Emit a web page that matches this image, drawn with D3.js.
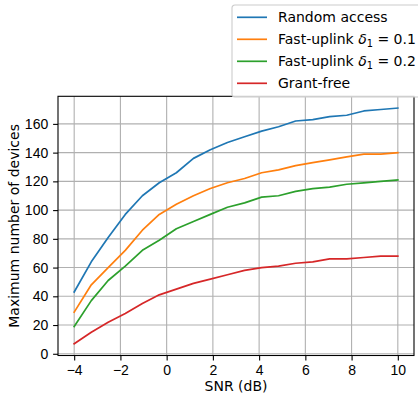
<!DOCTYPE html>
<html>
<head>
<meta charset="utf-8">
<script src="https://cdn.jsdelivr.net/npm/d3@7"></script>
<style>
  body { margin: 0; background: #fff; }
  svg { display: block; font-family: "DejaVu Sans", sans-serif; }
  .grid line { stroke: #b0b0b0; stroke-width: 1.1px; }
  .axis text { font-size: 14px; fill: #000; }
  .axis line, .axis path { stroke: #000; stroke-width: 1.1px; }
</style>
</head>
<body>
<div id="chart"></div>
<script>
// SNR values (dB)
const snr = [-4, -3.26, -2.53, -1.79, -1.05, -0.32, 0.42, 1.16, 1.89, 2.63,
             3.37, 4.11, 4.84, 5.58, 6.32, 7.05, 7.79, 8.53, 9.26, 10];

// series
const randomAccess = [43, 64, 81, 97, 110, 119, 126, 136, 142, 147,
                      151, 155, 158, 162, 163, 165, 166, 169, 170, 171];
const fastUplink01 = [29, 48, 60, 72, 86, 97, 104, 110, 115, 119,
                      122, 126, 128, 131, 133, 135, 137, 139, 139, 140];
const fastUplink02 = [19, 37, 51, 61, 72, 79, 87, 92, 97, 102,
                      105, 109, 110, 113, 115, 116, 118, 119, 120, 121];
const grantFree = [7, 15, 22, 28, 35, 41, 45, 49, 52, 55,
                   58, 60, 61, 63, 64, 66, 66, 67, 68, 68];

const xTicks = [-4, -2, 0, 2, 4, 6, 8, 10];
const yTicks = [0, 20, 40, 60, 80, 100, 120, 140, 160];

const seriesNames = ["Random access", "Fast-uplink", "Fast-uplink", "Grant-free"];
const seriesDelta = [null, "0.1", "0.2", null];
const colors = ["#1f77b4", "#ff7f0e", "#2ca02c", "#d62728"];

const series = [randomAccess, fastUplink01, fastUplink02, grantFree];

// canvas
const W = 418, H = 401;
const plot = {left: 58, right: 414, top: 96.3, bottom: 355.5};

const svg = d3.select("#chart")
  .append("svg")
    .attr("width", W)
    .attr("height", H);

// scales
const xScale = d3.scaleLinear().domain([-4.7, 10.7]).range([plot.left, plot.right]);
const yScale = d3.scaleLinear().domain([-1.2, 179.2]).range([plot.bottom, plot.top]);

// grid
const grid = svg.append("g").attr("class", "grid");
grid.selectAll(".vx")
  .data(xTicks)
  .enter().append("line")
    .attr("x1", d => xScale(d)).attr("x2", d => xScale(d))
    .attr("y1", plot.top).attr("y2", plot.bottom);
grid.selectAll(".hy")
  .data(yTicks)
  .enter().append("line")
    .attr("y1", d => yScale(d)).attr("y2", d => yScale(d))
    .attr("x1", plot.left).attr("x2", plot.right);

// lines
const line = d3.line()
  .x((d, i) => xScale(snr[i]))
  .y(d => yScale(d));

svg.selectAll(".series")
  .data(series)
  .enter().append("path")
    .attr("class", "series")
    .attr("fill", "none")
    .attr("stroke", (d, i) => colors[i])
    .attr("stroke-width", 1.7)
    .attr("stroke-linejoin", "round")
    .attr("stroke-linecap", "square")
    .attr("d", line);

// axes
const fmt = d => (d < 0 ? "\u2212" + Math.abs(d) : d);

svg.append("g")
    .attr("class", "axis")
    .attr("transform", `translate(0, ${plot.bottom})`)
  .call(d3.axisBottom(xScale).tickValues(xTicks).tickFormat(fmt).tickSize(4.9).tickPadding(4.9))
  .call(g => g.select(".domain").remove());

svg.append("g")
    .attr("class", "axis")
    .attr("transform", `translate(${plot.left}, 0)`)
  .call(d3.axisLeft(yScale).tickValues(yTicks).tickSize(4.9).tickPadding(4.9))
  .call(g => g.select(".domain").remove());

// frame
svg.append("rect")
    .attr("x", plot.left)
    .attr("y", plot.top)
    .attr("width", plot.right - plot.left)
    .attr("height", plot.bottom - plot.top)
    .attr("fill", "none")
    .attr("stroke", "#000")
    .attr("stroke-width", 1.1);

// axis labels
svg.append("text")
    .attr("x", (plot.left + plot.right) / 2)
    .attr("y", 390.5)
    .attr("text-anchor", "middle")
    .style("font-size", "14px")
  .text("SNR (dB)");

svg.append("text")
    .attr("transform", `translate(19, ${(plot.top + plot.bottom) / 2}) rotate(-90)`)
    .attr("text-anchor", "middle")
    .style("font-size", "14px")
  .text("Maximum number of devices");

// legend
const legend = svg.append("g").attr("transform", "translate(232, 5)");
legend.append("rect")
    .attr("width", 210)
    .attr("height", 92)
    .attr("rx", 3)
    .attr("fill", "#fff")
    .attr("fill-opacity", 0.8)
    .attr("stroke", "#cccccc")
    .attr("stroke-width", 1.1);

const item = legend.selectAll(".item")
  .data(seriesNames)
  .enter().append("g")
    .attr("transform", (d, i) => `translate(0, ${12.3 + i * 22})`);

item.append("line")
    .attr("x1", 5).attr("x2", 35)
    .attr("stroke", (d, i) => colors[i])
    .attr("stroke-width", 1.7);

const label = item.append("text")
    .attr("x", 46)
    .attr("dy", "0.35em")
    .style("font-size", "14px");

label.each(function(d, i) {
  const t = d3.select(this);
  if (seriesDelta[i] === null) {
    t.text(d);
  } else {
    t.append("tspan").text(d + " ");
    t.append("tspan").style("font-style", "italic").text("\u03b4");
    t.append("tspan").attr("dy", "3").style("font-size", "9.8px").text("1");
    t.append("tspan").attr("dy", "-3").text(" = " + seriesDelta[i]);
  }
});
</script>
</body>
</html>
